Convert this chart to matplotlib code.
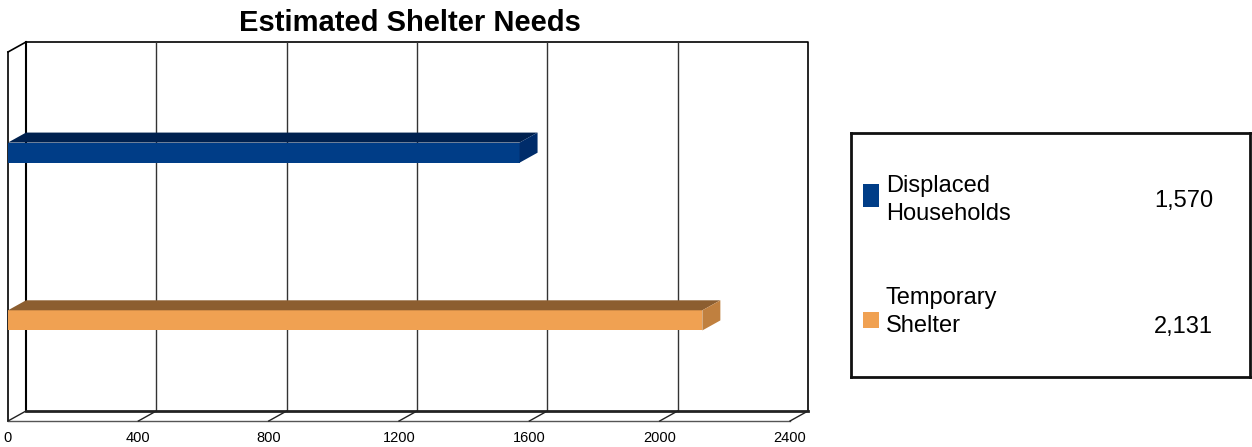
import matplotlib.pyplot as plt
from matplotlib.patches import Polygon, Rectangle

plt.rcParams['font.family'] = ['Liberation Sans', 'DejaVu Sans']

# data
categories = ['Temporary\nShelter', 'Displaced\nHouseholds']
values = [2131, 1570]
value_labels = ['2,131', '1,570']
front_colors = ['#F0A152', '#003D87']
top_colors = ['#8C5E30', '#00214F']
side_colors = ['#C0803F', '#002C6A']
xticks = [0, 400, 800, 1200, 1600, 2000, 2400]

W, H = 1252, 447
fig = plt.figure(figsize=(W / 100, H / 100), dpi=100)

# front plane of the 3d box
x0, x1, ytop, ybot = 8, 790, 52, 421
ax = fig.add_axes([x0 / W, (H - ybot) / H, (x1 - x0) / W, (ybot - ytop) / H])
ymin, ymax = -0.6, 1.6
ax.set_xlim(0, 2400)
ax.set_ylim(ymin, ymax)
for s in ax.spines.values():
    s.set_visible(False)
ax.set_yticks([])
ax.set_xticks(xticks)
ax.tick_params(axis='x', length=0, pad=7, labelsize=10.5)

# depth offset (18px right, 10px up) in data units
dx = 2400 * 18 / (x1 - x0)
dy = (ymax - ymin) * 10 / (ybot - ytop)

kw = dict(clip_on=False)
# back wall
ax.plot([dx, dx + 2400, dx + 2400], [ymax + dy, ymax + dy, ymin + dy], color='#000000', lw=1.2, **kw)
ax.plot([dx, dx], [ymin + dy, ymax + dy], color='#000000', lw=1.5, **kw)
for t in xticks[1:-1]:
    ax.plot([t + dx, t + dx], [ymin + dy, ymax + dy], color='#333333', lw=1, **kw)
# left wall
ax.plot([0, 0], [ymin, ymax], color='#000000', lw=1.2, **kw)
ax.plot([0, dx], [ymax, ymax + dy], color='#000000', lw=1.2, **kw)
# floor
ax.plot([dx, 2400 + dx], [ymin + dy, ymin + dy], color='#222222', lw=2, **kw)
ax.plot([0, 2400], [ymin, ymin], color='#555555', lw=1, **kw)
for t in xticks:
    ax.plot([t, t + dx], [ymin, ymin + dy], color='#222222', lw=1, **kw)

# bars
h = 0.12
for i, v in enumerate(values):
    y = i
    ax.add_patch(Rectangle((0, y - h / 2), v, h, facecolor=front_colors[i], edgecolor='none', zorder=3, **kw))
    ax.add_patch(Polygon([(0, y + h / 2), (v, y + h / 2), (v + dx, y + h / 2 + dy), (dx, y + h / 2 + dy)],
                         closed=True, facecolor=top_colors[i], edgecolor='none', zorder=3, **kw))
    ax.add_patch(Polygon([(v, y - h / 2), (v + dx, y - h / 2 + dy), (v + dx, y + h / 2 + dy), (v, y + h / 2)],
                         closed=True, facecolor=side_colors[i], edgecolor='none', zorder=3, **kw))

fig.text(410 / W, 1 - 23 / H, 'Estimated Shelter Needs', ha='center', va='center',
         fontsize=21, fontweight='bold')

# legend box
lx0, lx1, ly0, ly1 = 851, 1250, 133, 377
lg = fig.add_axes([lx0 / W, (H - ly1) / H, (lx1 - lx0) / W, (ly1 - ly0) / H])
lg.set_xlim(0, lx1 - lx0)
lg.set_ylim(ly1 - ly0, 0)
lg.set_xticks([])
lg.set_yticks([])
for s in lg.spines.values():
    s.set_linewidth(2)
    s.set_color('#111111')

# (marker rect y, marker height, text center y, value y)
rows = {1: (51, 23, 67, 68), 0: (179, 16, 179, 194)}
for i in [1, 0]:
    my, mh, ty, vy = rows[i]
    lg.add_patch(Rectangle((12, my), 16, mh, facecolor=front_colors[i], edgecolor='none'))
    lg.text(35, ty, categories[i], ha='left', va='center', fontsize=17, linespacing=1.41)
    lg.text(362, vy, value_labels[i], ha='right', va='center', fontsize=17)

fig.savefig('out.png', dpi=100)
